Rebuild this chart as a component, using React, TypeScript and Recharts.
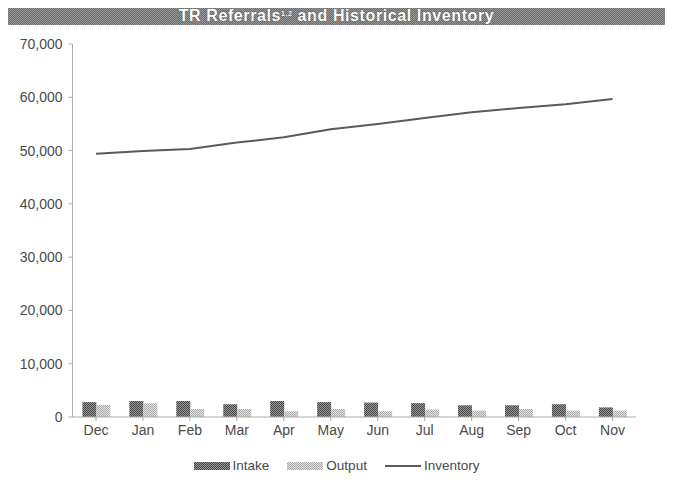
import React from "react";
import { ComposedChart, Bar, Line, XAxis, YAxis } from "recharts";

const months = ["Dec", "Jan", "Feb", "Mar", "Apr", "May", "Jun", "Jul", "Aug", "Sep", "Oct", "Nov"];
const intake = [2800, 3000, 3000, 2400, 3000, 2800, 2700, 2600, 2200, 2200, 2400, 1800];
const output = [2250, 2600, 1500, 1500, 1100, 1500, 1100, 1400, 1200, 1500, 1200, 1200];
const inventory = [49400, 49900, 50300, 51500, 52500, 54000, 55000, 56100, 57200, 58000, 58700, 59700];
const yTicks = [0, 10000, 20000, 30000, 40000, 50000, 60000, 70000];

const data = months.map((m, i) => ({
  month: m,
  intake: intake[i],
  output: output[i],
  inventory: inventory[i],
}));

const font = "'Liberation Sans', Arial, sans-serif";

const fmt = (v: number) => v.toLocaleString("en-US");

const Swatch = ({ kind }: { kind: string }) => {
  if (kind === "line") {
    return (
      <svg width={36} height={10} style={{ display: "block" }}>
        <line x1={0} y1={5} x2={36} y2={5} stroke="#5a5a5a" strokeWidth={2} />
      </svg>
    );
  }
  const bg =
    kind === "intake"
      ? "repeating-conic-gradient(#444 0 25%, #9a9a9a 0 50%) 0 0 / 2px 2px"
      : "repeating-conic-gradient(#a8a8a8 0 25%, #e4e4e4 0 50%) 0 0 / 2px 2px";
  return <div style={{ width: 36, height: 8, background: bg }} />;
};

export default function App() {
  return (
    <div style={{ position: "relative", width: 673, height: 493, background: "#fff", margin: -8, fontFamily: font }}>
      <div
        style={{
          position: "absolute",
          left: 5,
          top: 0,
          width: 0,
          height: 490,
          borderLeft: "1px dotted #ccc",
        }}
      />
      <div
        style={{
          position: "absolute",
          left: 0,
          top: 3,
          width: 673,
          height: 22,
          background: "repeating-conic-gradient(#999 0 25%, #6a6a6a 0 50%) 0 0 / 2px 2px",
          color: "#fff",
          fontWeight: "bold",
          fontSize: 16,
          letterSpacing: 0.6,
          lineHeight: "22px",
          textAlign: "center",
          textShadow: "0 0 1px #333",
        }}
      >
        TR Referrals<sup style={{ fontSize: 7, verticalAlign: "5px" }}>1,2</sup> and Historical Inventory
      </div>
      <div style={{ position: "absolute", left: 0, top: 0 }}>
        <ComposedChart
          width={673}
          height={493}
          data={data}
          margin={{ top: 44, right: 37, bottom: 46, left: 0 }}
          barCategoryGap="21%"
          barGap={0}
        >
          <defs>
            <pattern id="patIntake" width={2} height={2} patternUnits="userSpaceOnUse">
              <rect width={2} height={2} fill="#9a9a9a" />
              <rect width={1} height={1} fill="#444" />
              <rect x={1} y={1} width={1} height={1} fill="#444" />
            </pattern>
            <pattern id="patOutput" width={2} height={2} patternUnits="userSpaceOnUse">
              <rect width={2} height={2} fill="#e4e4e4" />
              <rect width={1} height={1} fill="#a8a8a8" />
              <rect x={1} y={1} width={1} height={1} fill="#a8a8a8" />
            </pattern>
          </defs>
          <XAxis
            dataKey="month"
            height={30}
            stroke="#aaa"
            tickSize={4}
            tick={{ fill: "#4a4a4a", fontSize: 14, fontFamily: font }}
            tickMargin={4}
          />
          <YAxis
            width={72.5}
            domain={[0, 70000]}
            ticks={yTicks}
            interval={0}
            stroke="#aaa"
            tickSize={4}
            tickMargin={6}
            tickFormatter={fmt}
            tick={{ fill: "#4a4a4a", fontSize: 14, fontFamily: font }}
          />
          <Bar dataKey="intake" fill="url(#patIntake)" isAnimationActive={false} />
          <Bar dataKey="output" fill="url(#patOutput)" isAnimationActive={false} />
          <Line
            dataKey="inventory"
            type="linear"
            stroke="#5a5a5a"
            strokeWidth={2}
            dot={false}
            isAnimationActive={false}
          />
        </ComposedChart>
      </div>
      <div
        style={{
          position: "absolute",
          top: 458,
          left: 0,
          width: 673,
          display: "flex",
          justifyContent: "center",
          alignItems: "center",
          fontSize: 13.5,
          color: "#4a4a4a",
        }}
      >
        {[
          { k: "intake", label: "Intake" },
          { k: "output", label: "Output" },
          { k: "line", label: "Inventory" },
        ].map((it) => (
          <div key={it.k} style={{ display: "flex", alignItems: "center", margin: "0 9px" }}>
            <Swatch kind={it.k} />
            <span style={{ marginLeft: 3 }}>{it.label}</span>
          </div>
        ))}
      </div>
    </div>
  );
}
